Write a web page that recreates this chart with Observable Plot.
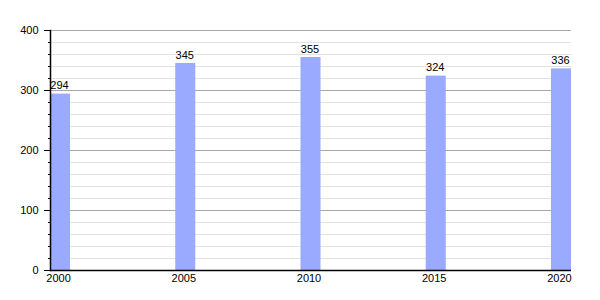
<!DOCTYPE html>
<html>
<head>
<meta charset="utf-8">
<script src="https://cdn.jsdelivr.net/npm/d3@7"></script>
<script src="https://cdn.jsdelivr.net/npm/@observablehq/plot@0.6"></script>
<style>
  html, body { margin: 0; padding: 0; background: #fff; }
  #chart svg { display: block; }
</style>
</head>
<body>
<div id="chart"></div>
<script>
const years = ["2000", "2005", "2010", "2015", "2020"];
const values = [294, 345, 355, 324, 336];
const majorTicks = [0, 100, 200, 300, 400];
const minorTicks = [20, 40, 60, 80, 120, 140, 160, 180, 220, 240, 260, 280, 320, 340, 360, 380];

const data = years.map((y, i) => ({year: y, value: values[i]}));

const chart = Plot.plot({
  width: 600,
  height: 300,
  marginLeft: 50,
  marginRight: 29,
  marginTop: 30,
  marginBottom: 30,
  style: {fontFamily: "'Liberation Sans', Arial, sans-serif", fontSize: "11px", color: "#000", background: "#fff"},
  x: {type: "band", domain: years, paddingInner: 0.84, paddingOuter: 0, round: false, label: null},
  y: {domain: [0, 400], label: null},
  marks: [
    Plot.ruleY(minorTicks, {stroke: "#e2e2e2", strokeOpacity: 1}),
    Plot.ruleY(majorTicks.filter(d => d > 0), {stroke: "#a8a8a8", strokeOpacity: 1}),
    Plot.barY(data, {x: "year", y: "value", fill: "#99aaff"}),
    Plot.text(data, {x: "year", y: "value", text: d => String(d.value), dy: -5, dx: -1, lineAnchor: "bottom", fill: "#000", fontSize: 11}),
    Plot.axisY({ticks: minorTicks, tickSize: 2, tickFormat: () => "", stroke: "#000"}),
    Plot.axisY({ticks: majorTicks, tickSize: 6, tickPadding: 6, fontSize: 11, fill: "#000", stroke: "#000"}),
    Plot.axisX({tickSize: 0, tickPadding: 4, dx: -2, fontSize: 11, fill: "#000"}),
    Plot.frame({anchor: "left", stroke: "#000", strokeWidth: 1.5}),
    Plot.ruleY([0], {stroke: "#000", strokeWidth: 1.5})
  ]
});
document.getElementById("chart").appendChild(chart);
</script>
</body>
</html>
